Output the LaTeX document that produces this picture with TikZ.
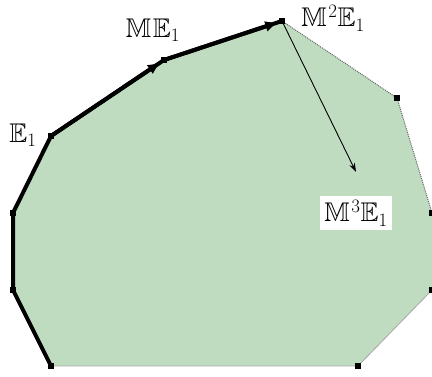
\documentclass[tikz,border=0pt]{standalone}
\usepackage{amssymb}
\usepackage{fix-cm}
\usetikzlibrary{arrows.meta}
\definecolor{fillgreen}{RGB}{192,220,192}
\newcommand{\bbM}{\mathbb{M}\mkern1mu}
\begin{document}
\begin{tikzpicture}[x=1pt,y=-1pt,
  vmark/.style={fill=black, rectangle, inner sep=0pt, minimum size=6pt},
  lbl/.style={font=\fontsize{27}{32}\selectfont, inner sep=0pt},
  thickedge/.style={line width=4pt, black, line join=round},
  thinedge/.style={line width=0.8pt, gray!70},
  dotedge/.style={line width=1pt, gray!80!black, densely dotted},
  headarrow/.style={line width=4pt, -{Latex[length=13pt,width=11pt]}, shorten >=4pt},
  maparrow/.style={line width=0.9pt, -{Stealth[length=9pt,width=6pt]}}]
\useasboundingbox (0,0) rectangle (432,377);
\coordinate (v1) at (51,366);
\coordinate (v2) at (13,290);
\coordinate (v3) at (13,213);
\coordinate (v4) at (51,136);
\coordinate (v5) at (164,60);
\coordinate (v6) at (282,21);
\coordinate (v7) at (397,98);
\coordinate (v8) at (432,213);
\coordinate (v9) at (432,290);
\coordinate (v10) at (358,366);
\coordinate (tip) at (356,172);
\fill[fillgreen] (v1)--(v2)--(v3)--(v4)--(v5)--(v6)--(v7)--(v8)--(v9)--(v10)--cycle;
\draw[thinedge] (v9)--(v10)--(v1);
\draw[dotedge] (v6)--(v7)--(v8);
\draw[thickedge] (v1)--(v2)--(v3)--(v4)--(v5)--(v6);
\draw[headarrow] (v4)--(v5);
\draw[headarrow] (v5)--(v6);
\foreach \v in {v1,v2,v3,v4,v5,v6,v7,v8,v9,v10} \node[vmark] (m\v) at (\v) {};
\draw[maparrow] (v6) -- (tip);
\node[lbl, fill=white, inner sep=4pt] (l4) at (356,213) {$\bbM^3\mathbb{E}_1$};
\node[lbl] (l1) at (23,135) {$\mathbb{E}_1$};
\node[lbl] (l2) at (153,30) {$\bbM\mathbb{E}_1$};
\node[lbl] (l3) at (333,18) {$\bbM^2\mathbb{E}_1$};
\end{tikzpicture}
\end{document}
